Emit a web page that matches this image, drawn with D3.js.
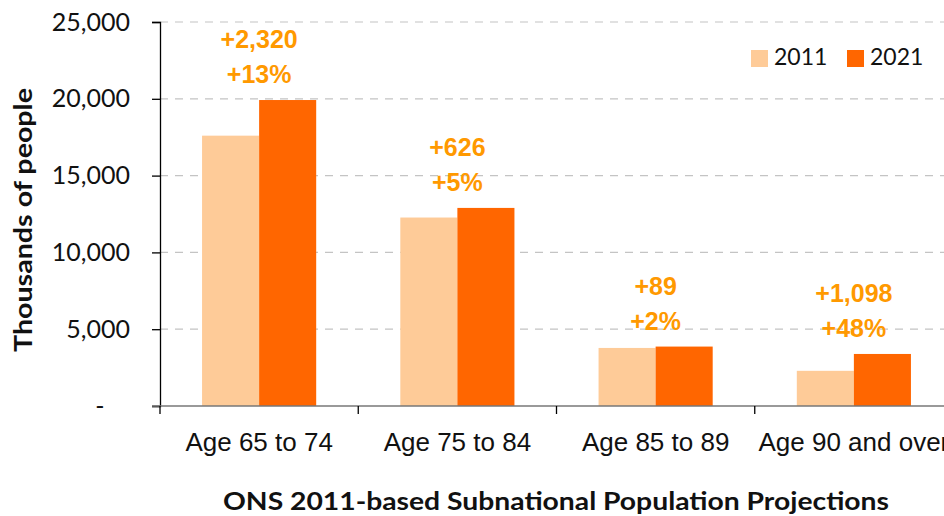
<!DOCTYPE html>
<html>
<head>
<meta charset="utf-8">
<script src="https://cdn.jsdelivr.net/npm/d3@7"></script>
<style>
  body { margin: 0; background: #fff; }
  svg { display: block; }
</style>
</head>
<body>
<svg></svg>
<script>
const width = 944;
const height = 516;

// data
const categories = ['Age 65 to 74', 'Age 75 to 84', 'Age 85 to 89', 'Age 90 and over'];
const series = ['2011', '2021'];
const values2011 = [17600, 12270, 3780, 2290];
const values2021 = [19920, 12896, 3869, 3388];
const changeAbs = [2320, 626, 89, 1098];
const changePct = [13, 5, 2, 48];
const yTicks = [0, 5000, 10000, 15000, 20000, 25000];

const colors = { '2011': '#FECB98', '2021': '#FF6600' };

const svg = d3.select('svg')
    .attr('width', width).attr('height', height);

const x = d3.scaleBand()
    .domain(categories)
    .range([160, 953])
    .paddingInner(0).paddingOuter(0);

const x1 = d3.scaleBand()
    .domain(series)
    .range([0, x.bandwidth()])
    .paddingInner(0).paddingOuter(0.737);

const y = d3.scaleLinear()
    .domain([0, 25000])
    .range([406, 22]);

// gridlines
svg.append('g')
    .selectAll('line')
    .data(yTicks.filter(d => d > 0))
    .enter().append('line')
    .attr('x1', 160).attr('x2', width)
    .attr('y1', d => y(d)).attr('y2', d => y(d))
    .attr('stroke', '#c4c4c4')
    .attr('stroke-width', 1.2)
    .attr('stroke-dasharray', '8,7');

// bars
const rows = categories.map((c, i) => ({ cat: c, vals: [values2011[i], values2021[i]], abs: changeAbs[i], pct: changePct[i] }));

const groups = svg.append('g').selectAll('g')
    .data(rows)
    .enter().append('g')
    .attr('transform', d => `translate(${x(d.cat)},0)`);

groups.selectAll('rect')
    .data(d => d.vals.map((v, j) => ({ key: series[j], v: v })))
    .enter().append('rect')
    .attr('x', d => x1(d.key))
    .attr('width', x1.bandwidth())
    .attr('y', d => y(d.v))
    .attr('height', d => y(0) - y(d.v))
    .attr('fill', d => colors[d.key]);

// change labels
const fmt = d3.format(',');
groups.each(function (d) {
    const top = y(d3.max(d.vals));
    const g = d3.select(this);
    const cx = x.bandwidth() / 2;
    g.append('text')
        .attr('x', cx).attr('y', top - 52)
        .text('+' + fmt(d.abs));
    g.append('text')
        .attr('x', cx).attr('y', top - 17)
        .text('+' + d.pct + '%');
    g.selectAll('text')
        .attr('text-anchor', 'middle')
        .attr('font-family', '"Liberation Sans", Arial, sans-serif')
        .attr('font-weight', 'bold')
        .attr('font-size', 25)
        .attr('fill', '#FF9900');
});

// y axis
const yAxis = svg.append('g')
    .attr('transform', 'translate(160,0)')
    .call(d3.axisLeft(y)
        .tickValues(yTicks)
        .tickSize(8)
        .tickPadding(22)
        .tickFormat(d => d === 0 ? '-' : fmt(d)));
yAxis.select('.domain').attr('stroke', '#000').attr('stroke-width', 1.3);
yAxis.selectAll('.tick line').attr('stroke', '#000').attr('stroke-width', 1.3);
yAxis.selectAll('.tick text')
    .attr('font-family', 'Lato, "Liberation Sans", sans-serif')
    .attr('font-size', 25)
    .attr('fill', '#111');
yAxis.selectAll('.tick text').filter(d => d === 0)
    .attr('x', -60).attr('text-anchor', 'middle');

// x axis
const xAxis = svg.append('g')
    .attr('transform', `translate(0,${y(0)})`)
    .call(d3.axisBottom(x).tickSize(0).tickPadding(27));
xAxis.select('.domain').attr('stroke', '#777').attr('stroke-width', 1.5)
    .attr('d', `M152,0H953`);
xAxis.selectAll('.tick text')
    .attr('font-family', '"Liberation Sans", Arial, sans-serif')
    .attr('font-size', 26)
    .attr('fill', '#111');

// boundary ticks between categories
xAxis.selectAll('.bound')
    .data(categories.concat(['end']))
    .enter().append('line')
    .attr('class', 'bound')
    .attr('x1', (d, i) => x.range()[0] + i * x.step())
    .attr('x2', (d, i) => x.range()[0] + i * x.step())
    .attr('y1', 0).attr('y2', 8)
    .attr('stroke', '#000').attr('stroke-width', 1.3);

// axis titles
svg.append('text')
    .attr('x', 556).attr('y', 510)
    .attr('text-anchor', 'middle')
    .attr('font-family', 'Lato, "DejaVu Sans", sans-serif')
    .attr('font-weight', 'bold')
    .attr('font-size', 24)
    .attr('textLength', 666)
    .attr('lengthAdjust', 'spacingAndGlyphs')
    .attr('fill', '#111')
    .text('ONS 2011-based Subnational Population Projections');

svg.append('text')
    .attr('transform', 'translate(32,220) rotate(-90)')
    .attr('text-anchor', 'middle')
    .attr('font-family', 'Lato, "DejaVu Sans", sans-serif')
    .attr('font-weight', 'bold')
    .attr('font-size', 24)
    .attr('textLength', 264)
    .attr('lengthAdjust', 'spacingAndGlyphs')
    .attr('fill', '#111')
    .text('Thousands of people');

// legend
const legendX = [751, 847];
const legend = svg.append('g').selectAll('g')
    .data(series)
    .enter().append('g')
    .attr('transform', (d, i) => `translate(${legendX[i]},50)`);
legend.append('rect')
    .attr('width', 17).attr('height', 17)
    .attr('fill', d => colors[d]);
legend.append('text')
    .attr('x', 23).attr('y', 15)
    .attr('font-family', 'Lato, "Liberation Sans", sans-serif')
    .attr('font-size', 23)
    .attr('fill', '#111')
    .text(d => d);
</script>
</body>
</html>
